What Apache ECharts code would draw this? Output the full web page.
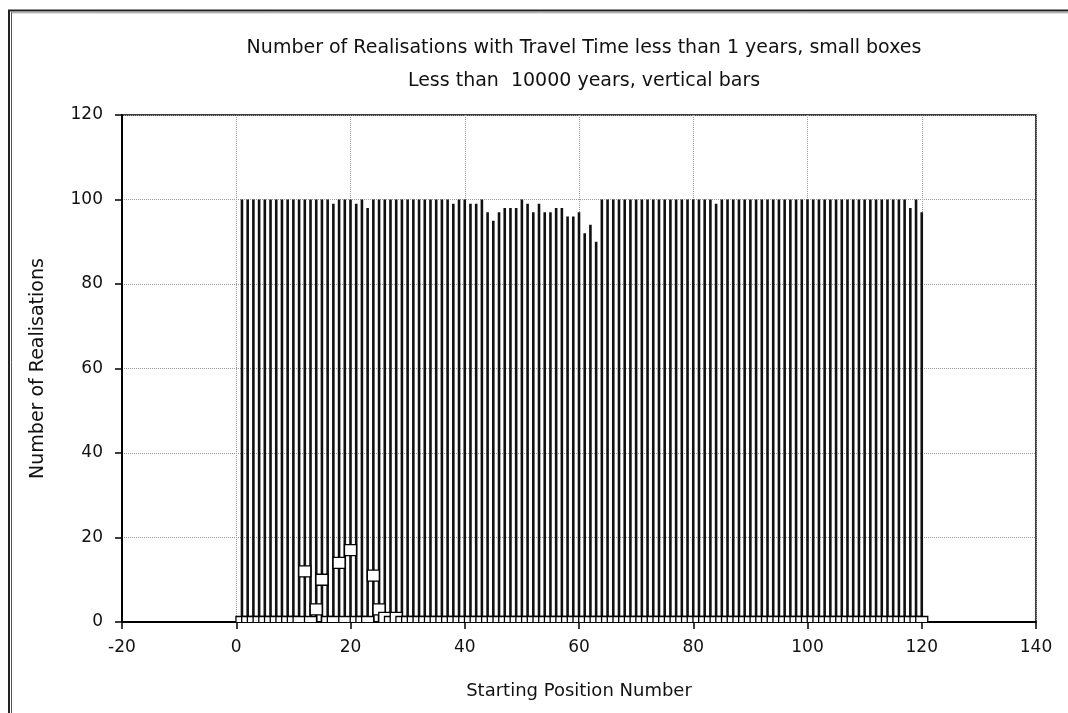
<!DOCTYPE html>
<html>
<head>
<meta charset="utf-8">
<script src="https://cdn.jsdelivr.net/npm/echarts@6/dist/echarts.min.js"></script>
<style>
  html, body { margin: 0; padding: 0; background: #fff; }
  #chart { width: 1068px; height: 713px; }
</style>
</head>
<body>
<div id="chart"></div>
<script>
// Starting positions 1..120
const positions = [];
for (let p = 1; p <= 120; p++) positions.push(p);

// Realisations with travel time under 10000 years (vertical bars), positions 1..120
const under10000 = [
  100, 100, 100, 100, 100, 100, 100, 100, 100, 100,   // 1-10
  100, 100, 100, 100, 100, 100,  99, 100, 100, 100,   // 11-20
   99, 100,  98, 100, 100, 100, 100, 100, 100, 100,   // 21-30
  100, 100, 100, 100, 100, 100, 100,  99, 100, 100,   // 31-40
   99,  99, 100,  97,  95,  97,  98,  98,  98, 100,   // 41-50
   99,  97,  99,  97,  97,  98,  98,  96,  96,  97,   // 51-60
   92,  94,  90, 100, 100, 100, 100, 100, 100, 100,   // 61-70
  100, 100, 100, 100, 100, 100, 100, 100, 100, 100,   // 71-80
  100, 100, 100,  99, 100, 100, 100, 100, 100, 100,   // 81-90
  100, 100, 100, 100, 100, 100, 100, 100, 100, 100,   // 91-100
  100, 100, 100, 100, 100, 100, 100, 100, 100, 100,   // 101-110
  100, 100, 100, 100, 100, 100, 100,  98, 100,  97    // 111-120
];

// Realisations with travel time under 1 year (small boxes), positions 1..120
const under1 = [
   0,  0,  0,  0,  0,  0,  0,  0,  0,  0,   // 1-10
   0, 12,  0,  3, 10,  0,  0, 14,  0, 17,   // 11-20
   0,  0,  0, 11,  3,  1,  0,  1,  0,  0,   // 21-30
   0,  0,  0,  0,  0,  0,  0,  0,  0,  0,   // 31-40
   0,  0,  0,  0,  0,  0,  0,  0,  0,  0,   // 41-50
   0,  0,  0,  0,  0,  0,  0,  0,  0,  0,   // 51-60
   0,  0,  0,  0,  0,  0,  0,  0,  0,  0,   // 61-70
   0,  0,  0,  0,  0,  0,  0,  0,  0,  0,   // 71-80
   0,  0,  0,  0,  0,  0,  0,  0,  0,  0,   // 81-90
   0,  0,  0,  0,  0,  0,  0,  0,  0,  0,   // 91-100
   0,  0,  0,  0,  0,  0,  0,  0,  0,  0,   // 101-110
   0,  0,  0,  0,  0,  0,  0,  0,  0,  0    // 111-120
];

// Axis ranges and ticks
const xTicks = [-20, 0, 20, 40, 60, 80, 100, 120, 140];
const yTicks = [0, 20, 40, 60, 80, 100, 120];

const titleLines = [
  'Number of Realisations with Travel Time less than 1 years, small boxes',
  'Less than  10000 years, vertical bars'
];
const xName = 'Starting Position Number';
const yName = 'Number of Realisations';

const FONT = 'DejaVu Sans';

const barData = positions.map((p, i) => [p, under10000[i]]);
const boxData = positions.map((p, i) => [p, under1[i]]);

const chart = echarts.init(document.getElementById('chart'), null, { renderer: 'canvas' });

const gridLine = { show: true, lineStyle: { color: '#9a9a9a', width: 1, type: 'dotted' } };

chart.setOption({
  animation: false,
  backgroundColor: '#fff',
  title: {
    text: titleLines.join('\n'),
    left: 579,
    top: 27,
    textAlign: 'center',
    textStyle: { fontFamily: FONT, fontSize: 19, fontWeight: 'normal', color: '#111', lineHeight: 33 }
  },
  grid: {
    left: 122, right: 32, top: 115, bottom: 91,
    show: true, borderColor: '#000', borderWidth: 1.5, backgroundColor: '#fff'
  },
  xAxis: {
    type: 'value',
    min: xTicks[0], max: xTicks[xTicks.length - 1], interval: 20,
    name: xName, nameLocation: 'middle', nameGap: 60,
    nameTextStyle: { fontFamily: FONT, fontSize: 18, color: '#111' },
    axisLine: { show: true, onZero: false, lineStyle: { color: '#000', width: 2 } },
    axisTick: { show: true, inside: false, length: 7, lineStyle: { color: '#000', width: 1.5 } },
    axisLabel: { fontFamily: FONT, fontSize: 17, color: '#111', margin: 17 },
    splitLine: gridLine
  },
  yAxis: {
    type: 'value',
    min: yTicks[0], max: yTicks[yTicks.length - 1], interval: 20,
    name: yName, nameLocation: 'middle', nameGap: 74, nameRotate: 90,
    nameTextStyle: { fontFamily: FONT, fontSize: 19, color: '#111' },
    axisLine: { show: true, onZero: false, lineStyle: { color: '#000', width: 2 } },
    axisTick: { show: true, inside: false, length: 7, lineStyle: { color: '#000', width: 1.5 } },
    axisLabel: { fontFamily: FONT, fontSize: 17, color: '#111', margin: 19 },
    splitLine: gridLine
  },
  graphic: [
    // outer frame, left and top edges
    { type: 'line', shape: { x1: 9, y1: 10, x2: 9, y2: 713 }, style: { stroke: '#222', lineWidth: 2 } },
    { type: 'line', shape: { x1: 11.5, y1: 12, x2: 11.5, y2: 713 }, style: { stroke: '#555', lineWidth: 1 } },
    { type: 'line', shape: { x1: 8, y1: 10.5, x2: 1068, y2: 10.5 }, style: { stroke: '#222', lineWidth: 2 } },
    { type: 'line', shape: { x1: 11, y1: 12.8, x2: 1068, y2: 12.8 }, style: { stroke: '#777', lineWidth: 0.8 } }
  ],
  series: [
    {
      name: 'Less than 10000 years',
      type: 'bar',
      data: barData,
      barWidth: 2.6,
      itemStyle: { color: '#111' },
      z: 2
    },
    {
      name: 'Less than 1 year',
      type: 'custom',
      data: boxData,
      clip: true,
      z: 3,
      renderItem: function (params, api) {
        const c = api.coord([api.value(0), api.value(1)]);
        return {
          type: 'rect',
          shape: { x: c[0] - 6, y: c[1] - 5.5, width: 12, height: 11 },
          style: { fill: '#fff', stroke: '#000', lineWidth: 1.3 }
        };
      }
    }
  ]
});
</script>
</body>
</html>
